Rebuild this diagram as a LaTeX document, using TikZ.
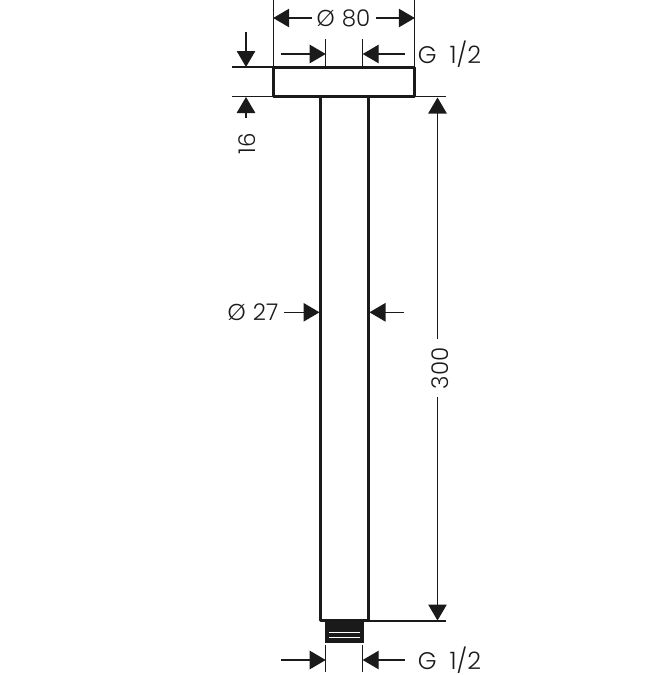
\documentclass[tikz,border=0pt]{standalone}
\usepackage{fontspec}
\setmainfont{Poppins}[UprightFont=* Light]
\usetikzlibrary{arrows.meta}
\definecolor{ink}{HTML}{1A1A1A}
\newcommand{\gap}{\hspace{7pt}}
\newcommand{\ggap}{\hspace{13pt}}
\tikzset{
  thick line/.style={draw=ink,line width=3pt,line join=round},
  ext line/.style={draw=ink,line width=1.1pt},
  dim line/.style={draw=ink,line width=1.1pt,-{Triangle[length=16pt,width=18.5pt,fill=ink]}},
  dim text/.style={text=ink,font=\fontsize{23}{23}\selectfont,inner sep=0pt,anchor=center},
  thread text/.style={dim text,font=\fontsize{24}{24}\selectfont},
  rot text/.style={dim text,rotate=90}
}
\begin{document}
\begin{tikzpicture}[x=1pt,y=-1pt]
\useasboundingbox (0,0) rectangle (661,675);
% body
\node[thick line,minimum width=141pt,minimum height=29.5pt,inner sep=0pt,outer sep=0pt] (plate) at (344.2,82) {};
\coordinate (tubeTL) at (320.7,96.7);
\coordinate (tubeTR) at (368.3,96.7);
\coordinate (tubeBL) at (320.7,620.7);
\coordinate (tubeBR) at (368.3,620.7);
\draw[thick line] (tubeTL) -- (tubeBL) -- (tubeBR) -- (tubeTR);
\fill[ink] (325,620) rectangle (364,643);
\draw[white,line width=0.9pt] (329,632) -- (360,632);
\draw[white,line width=0.9pt] (329,637) -- (360,637);
% Ø 80
\coordinate (e80Lt) at (273.2,0); \coordinate (e80Lb) at (273.2,67);
\coordinate (e80Rt) at (414.8,0); \coordinate (e80Rb) at (414.8,67);
\draw[ext line] (e80Lt) -- (e80Lb);
\draw[ext line] (e80Rt) -- (e80Rb);
\node[dim text] (t80) at (343.5,18) {Ø\gap 80};
\coordinate (a80L) at (273.2,18); \coordinate (a80R) at (414.8,18);
\coordinate (s80L) at (312,18); \coordinate (s80R) at (376,18);
\draw[dim line] (s80L) -- (a80L);
\draw[dim line] (s80R) -- (a80R);
% G 1/2 top
\coordinate (gTLt) at (325.7,39); \coordinate (gTLb) at (325.7,67);
\coordinate (gTRt) at (362.7,39); \coordinate (gTRb) at (362.7,67);
\draw[ext line] (gTLt) -- (gTLb);
\draw[ext line] (gTRt) -- (gTRb);
\coordinate (gTa) at (325.7,54); \coordinate (gTb) at (362.7,54);
\coordinate (gTs) at (281,54); \coordinate (gTe) at (405,54);
\draw[dim line] (gTs) -- (gTa);
\draw[dim line] (gTe) -- (gTb);
\node[thread text] (tGt) at (449.5,54.5) {G\ggap 1/2};
% 16
\coordinate (e16a) at (232,67); \coordinate (e16ae) at (273,67);
\coordinate (e16b) at (232,96.7); \coordinate (e16be) at (273,96.7);
\draw[ext line] (e16a) -- (e16ae);
\draw[ext line] (e16b) -- (e16be);
\coordinate (a16t) at (246,67); \coordinate (s16t) at (246,32);
\coordinate (a16b) at (246,97); \coordinate (s16b) at (246,118);
\draw[dim line] (s16t) -- (a16t);
\draw[dim line] (s16b) -- (a16b);
\node[rot text] (t16) at (247,143.5) {16};
% 300
\coordinate (e300a) at (415,96.7); \coordinate (e300ae) at (446,96.7);
\coordinate (e300b) at (368,621); \coordinate (e300be) at (446,621);
\draw[ext line] (e300a) -- (e300ae);
\draw[ext line] (e300b) -- (e300be);
\coordinate (a300t) at (437.5,97.5); \coordinate (s300t) at (437.5,339);
\coordinate (a300b) at (437.5,620.5); \coordinate (s300b) at (437.5,397);
\draw[dim line] (s300t) -- (a300t);
\draw[dim line] (s300b) -- (a300b);
\node[rot text] (t300) at (440,368.5) {300};
% Ø 27
\coordinate (a27L) at (319.5,312.3); \coordinate (s27L) at (284,312.3);
\coordinate (a27R) at (369.5,312.3); \coordinate (s27R) at (404,312.3);
\draw[dim line] (s27L) -- (a27L);
\draw[dim line] (s27R) -- (a27R);
\node[dim text] (t27) at (253,312.5) {Ø\gap 27};
% G 1/2 bottom
\coordinate (gBLt) at (325.7,645); \coordinate (gBLb) at (325.7,672);
\coordinate (gBRt) at (362.7,645); \coordinate (gBRb) at (362.7,672);
\draw[ext line] (gBLt) -- (gBLb);
\draw[ext line] (gBRt) -- (gBRb);
\coordinate (gBa) at (325.7,660); \coordinate (gBb) at (362.7,660);
\coordinate (gBs) at (281,660); \coordinate (gBe) at (405,660);
\draw[dim line] (gBs) -- (gBa);
\draw[dim line] (gBe) -- (gBb);
\node[thread text] (tGb) at (449.5,660.5) {G\ggap 1/2};
\end{tikzpicture}
\end{document}
